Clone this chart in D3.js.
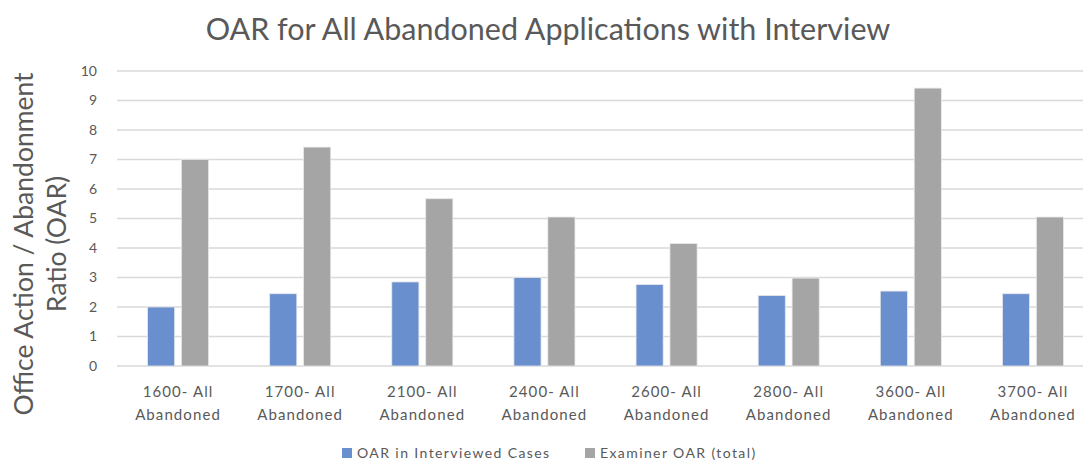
<!DOCTYPE html>
<html>
<head>
<meta charset="utf-8">
<script src="https://cdn.jsdelivr.net/npm/d3@7"></script>
<style>
  body { margin: 0; background: #fff; }
  text { font-family: Lato, "Open Sans", sans-serif; fill: #595959; }
</style>
</head>
<body>
<div id="chart"></div>
<script>
var categories = ["1600- All Abandoned", "1700- All Abandoned", "2100- All Abandoned", "2400- All Abandoned",
                  "2600- All Abandoned", "2800- All Abandoned", "3600- All Abandoned", "3700- All Abandoned"];
var seriesNames = ["OAR in Interviewed Cases", "Examiner OAR (total)"];
var interviewed = [2.0, 2.45, 2.85, 3.0, 2.76, 2.39, 2.54, 2.45];
var examiner = [7.0, 7.42, 5.67, 5.05, 4.15, 2.98, 9.42, 5.05];
var yTicks = [0, 1, 2, 3, 4, 5, 6, 7, 8, 9, 10];
var colors = ["#6a8fcf", "#a5a5a5"];

var width = 1083, height = 460;

var svg = d3.select("#chart").append("svg")
  .attr("width", width)
  .attr("height", height);

var rows = categories.map(function (c, i) {
  return { cat: c, values: [interviewed[i], examiner[i]] };
});

// scales
var x0 = d3.scaleBand()
  .domain(categories)
  .range([117, 1094])
  .paddingInner(0.5)
  .paddingOuter(0.25);

var x1 = d3.scaleBand()
  .domain(seriesNames)
  .range([0, x0.bandwidth()])
  .paddingInner(0.2);

var y = d3.scaleLinear()
  .domain([0, 10])
  .range([366, 71]);

// gridlines
svg.append("g")
  .selectAll("line")
  .data(yTicks)
  .enter().append("line")
  .attr("x1", 117)
  .attr("x2", width)
  .attr("y1", function (d) { return y(d); })
  .attr("y2", function (d) { return y(d); })
  .attr("stroke", "#d9d9d9")
  .attr("stroke-width", 1.5);

// y tick labels
svg.append("g")
  .selectAll("text")
  .data(yTicks)
  .enter().append("text")
  .attr("x", 97)
  .attr("y", function (d) { return y(d); })
  .attr("dy", "0.35em")
  .attr("text-anchor", "end")
  .style("font-size", "14px")
  .text(function (d) { return d; });

// bars
var groups = svg.append("g")
  .selectAll("g")
  .data(rows)
  .enter().append("g")
  .attr("transform", function (d) { return "translate(" + x0(d.cat) + ",0)"; });

groups.selectAll("rect")
  .data(function (d) { return d.values.map(function (v, i) { return { key: seriesNames[i], v: v, i: i }; }); })
  .enter().append("rect")
  .attr("x", function (d) { return x1(d.key); })
  .attr("width", x1.bandwidth())
  .attr("y", function (d) { return y(d.v); })
  .attr("height", function (d) { return y(0) - y(d.v); })
  .attr("fill", function (d) { return colors[d.i]; })
  .attr("stroke", "#e8e8e8")
  .attr("stroke-width", 0.8);

// x labels
var xl = svg.append("g")
  .selectAll("text")
  .data(categories)
  .enter().append("text")
  .attr("x", function (d) { return x0(d) + x0.bandwidth() / 2; })
  .attr("y", 397)
  .attr("text-anchor", "middle")
  .style("font-size", "15px")
  .style("letter-spacing", "1.1px");

xl.append("tspan")
  .attr("x", function (d) { return x0(d) + x0.bandwidth() / 2; })
  .text(function (d) { return d.split(" ")[0] + " " + d.split(" ")[1]; });
xl.append("tspan")
  .attr("x", function (d) { return x0(d) + x0.bandwidth() / 2; })
  .attr("dy", 23)
  .text(function (d) { return d.split(" ")[2]; });

// title
svg.append("text")
  .attr("x", 548)
  .attr("y", 40)
  .attr("text-anchor", "middle")
  .style("font-size", "30.5px")
  .text("OAR for All Abandoned Applications with Interview");

// y axis title
var yt = svg.append("text")
  .attr("transform", "translate(33,244) rotate(-90)")
  .attr("text-anchor", "middle")
  .style("font-size", "26.5px");
yt.append("tspan").attr("x", 0).attr("y", 0).text("Office Action / Abandonment");
yt.append("tspan").attr("x", 0).attr("y", 33).text("Ratio (OAR)");

// legend
var legend = svg.append("g")
  .selectAll("g")
  .data(seriesNames)
  .enter().append("g")
  .attr("transform", function (d, i) { return "translate(" + [342, 585][i] + ",448)"; });

legend.append("rect")
  .attr("width", 10)
  .attr("height", 10)
  .attr("fill", function (d, i) { return colors[i]; });

legend.append("text")
  .attr("x", 15)
  .attr("y", 5)
  .attr("dy", "0.35em")
  .style("font-size", "14px")
  .style("letter-spacing", "1.4px")
  .text(function (d) { return d; });
</script>
</body>
</html>
